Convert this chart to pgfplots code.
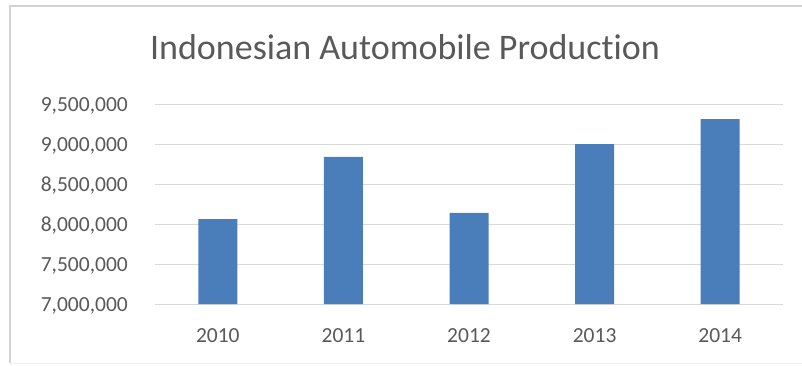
\documentclass[border=0pt]{standalone}
\usepackage{pgfplots}
\pgfplotsset{compat=1.18}
\usepackage{fontspec}
\setmainfont{Carlito}[Ligatures=NoCommon]
\definecolor{barblue}{HTML}{4A7EBB}
\definecolor{txtgray}{HTML}{595959}
\definecolor{gridgray}{HTML}{D9D9D9}
\begin{document}
\begin{tikzpicture}
\path[use as bounding box] (-155pt,-61pt) rectangle (647pt,304pt);
\draw[color=gray!35, line width=1.2pt] (-145pt,-59pt) -- (-145pt,298pt) -- (647pt,298pt);
\draw[color=gray!12, line width=1pt] (-145pt,-59pt) -- (647pt,-59pt);
\begin{axis}[
  at={(0,0)}, anchor=south west,
  scale only axis, width=628pt, height=200pt,
  xmin=-0.5, xmax=4.5, ymin=7000000, ymax=9500000,
  ytick={7000000,7500000,8000000,8500000,9000000,9500000},
  xtick={0,1,2,3,4}, xticklabels={2010,2011,2012,2013,2014},
  scaled y ticks=false,
  /pgf/number format/.cd, fixed, 1000 sep={,}, assume math mode=true,
  /pgfplots/.cd,
  axis line style={draw=none},
  major tick length=0pt,
  ymajorgrids, grid style={gridgray, line width=1pt},
  tick label style={font=\fontsize{21.5}{26}\selectfont, text=txtgray, inner sep=0pt},
  yticklabel style={anchor=base east, xshift=-27pt, yshift=-7pt},
  xticklabel style={anchor=base, yshift=-38pt},
  clip=false,
]
\addplot[ybar, bar width=39pt, fill=barblue, draw=none] coordinates {
  (0,8060000) (1,8840000) (2,8140000) (3,9000000) (4,9310000)
};
\end{axis}
\node[anchor=base, text=txtgray, font=\fontsize{36}{42}\selectfont] at (250pt,245pt) {Indonesian Automobile Production};
\end{tikzpicture}
\end{document}
